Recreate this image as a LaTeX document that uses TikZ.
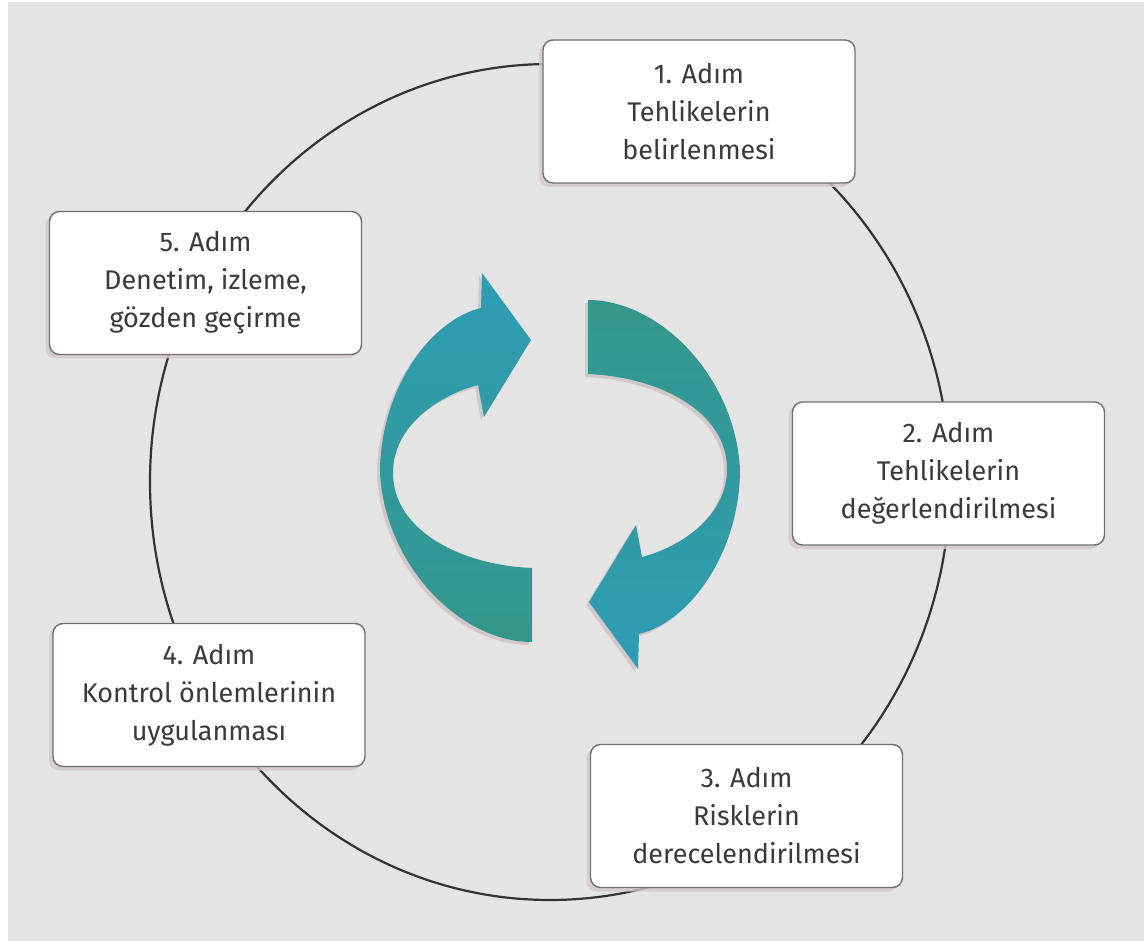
\documentclass[tikz,border=0pt]{standalone}
\usepackage{fontspec}
\setmainfont{Fira Sans}
\usetikzlibrary{shadows}
\definecolor{bgcol}{HTML}{E4E4E4}
\definecolor{linecol}{HTML}{333333}
\definecolor{boxline}{HTML}{707070}
\definecolor{txtcol}{HTML}{3A3A3A}
\definecolor{shadowcol}{HTML}{D2C8CA}
\definecolor{arrblue}{HTML}{2E9DB6}
\definecolor{arrgreen}{HTML}{35978A}
\tikzset{
  stepbox/.style={draw=boxline, line width=1.4pt, fill=white, rounded corners=10pt,
    minimum width=312pt, minimum height=143pt, inner sep=0pt, align=center,
    text=txtcol, font=\fontsize{27}{38}\selectfont,
    drop shadow={shadow xshift=-4pt, shadow yshift=-4pt, fill=shadowcol, opacity=0.8}},
  ring/.style={draw=linecol, line width=2.2pt},
}
\newcommand{\leftarrowpath}{(531,340) -- (482,273) -- (481,308)
  .. controls (430,320) and (380,390) .. (380,473)
  .. controls (385,565) and (460,642) .. (532,642)
  -- (532,568)
  .. controls (460,565) and (393,530) .. (393,473)
  .. controls (393,425) and (440,395) .. (478,385)
  -- (484,417) -- cycle}
\newcommand{\rightarrowpath}{(589,602) -- (638,669) -- (639,634)
  .. controls (690,622) and (740,552) .. (740,469)
  .. controls (735,377) and (660,300) .. (588,300)
  -- (588,374)
  .. controls (660,377) and (727,412) .. (727,469)
  .. controls (727,517) and (680,547) .. (642,557)
  -- (636,525) -- cycle}
\begin{document}
\begin{tikzpicture}[x=1pt,y=-1pt]
\useasboundingbox (0,0) rectangle (1144,941);
\fill[white] (0,0) rectangle (1144,941);
\fill[bgcol] (8,2) rectangle (1144,941);
% ring
\draw[ring] (550,482) ellipse [x radius=400pt, y radius=418pt];
% arrows with shadows
\fill[shadowcol] [shift={(-3,3)}] \leftarrowpath;
\fill[shadowcol] [shift={(-3,3)}] \rightarrowpath;
\shade[top color=arrblue, bottom color=arrgreen] \leftarrowpath;
\shade[top color=arrgreen, bottom color=arrblue] \rightarrowpath;
% step boxes
\node[stepbox] (s1) at (699,111.5) {1. Adım\\Tehlikelerin\\belirlenmesi};
\node[stepbox] (s2) at (948.5,473.5) {2. Adım\\Tehlikelerin\\değerlendirilmesi};
\node[stepbox] (s3) at (746.5,816) {3. Adım\\Risklerin\\derecelendirilmesi};
\node[stepbox] (s4) at (209,695) {4. Adım\\Kontrol önlemlerinin\\uygulanması};
\node[stepbox] (s5) at (205.5,283) {5. Adım\\Denetim, izleme,\\gözden geçirme};
\end{tikzpicture}
\end{document}
